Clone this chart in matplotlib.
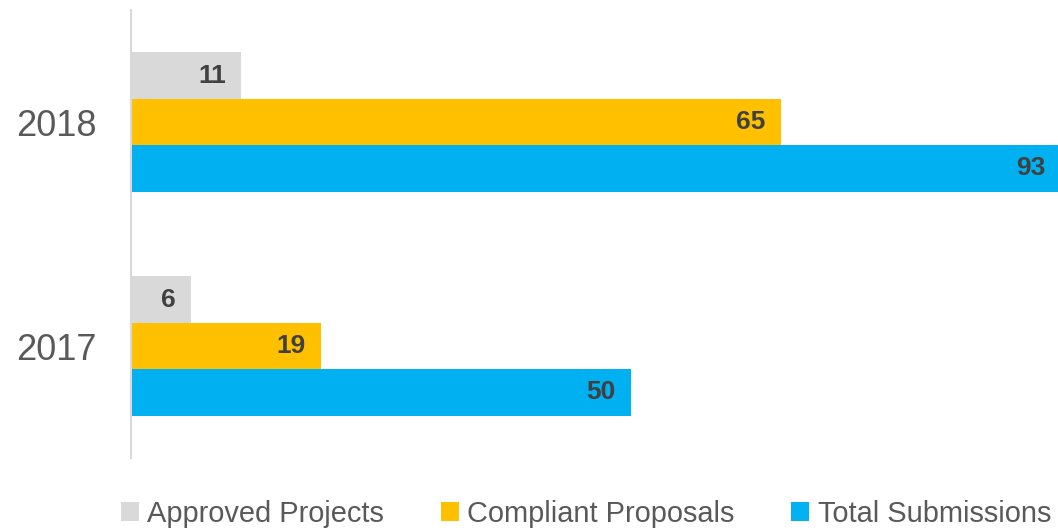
import matplotlib.pyplot as plt
import numpy as np

plt.rcParams['font.family'] = ['Liberation Sans', 'DejaVu Sans']

years = ['2017', '2018']
approved = [6, 11]
compliant = [19, 65]
total = [50, 93]
series = ['Approved Projects', 'Compliant Proposals', 'Total Submissions']
colors = ['#d9d9d9', '#ffc000', '#00b0f0']

fig = plt.figure(figsize=(10.58, 5.30), dpi=100)
ax = fig.add_axes([131/1058, 72/530, 927/1058, 448/530])

y = np.arange(len(years))
h = 0.207
offsets = [h, 0, -h]
for vals, name, c, off in zip([approved, compliant, total], series, colors, offsets):
    ax.barh(y + off, vals, height=h, color=c, label=name)
    for yi, v in zip(y + off, vals):
        ax.annotate(str(v), xy=(v, yi), xytext=(-11, 0), textcoords='offset points',
                    ha='right', va='center', fontsize=19, fontweight='bold',
                    color='#404040', annotation_clip=False)

ax.set_xlim(0, 92.7)
ax.set_ylim(-0.5, 1.5)
ax.set_yticks(y)
ax.set_yticklabels(years, fontsize=26, color='#595959')
ax.tick_params(axis='y', length=0, pad=25)
ax.set_xticks([])
for s in ['top', 'right', 'bottom']:
    ax.spines[s].set_visible(False)
ax.spines['left'].set_color('#d9d9d9')
ax.spines['left'].set_linewidth(1.5)

leg = fig.legend(loc='center', bbox_to_anchor=(586/1058, 1 - 514/530), ncol=3,
                 frameon=False, fontsize=20.9, handlelength=0.62, handleheight=0.62,
                 handletextpad=0.3, columnspacing=1.95, borderaxespad=0, borderpad=0)
for t in leg.get_texts():
    t.set_color('#595959')

fig.savefig('out.png', dpi=100)
